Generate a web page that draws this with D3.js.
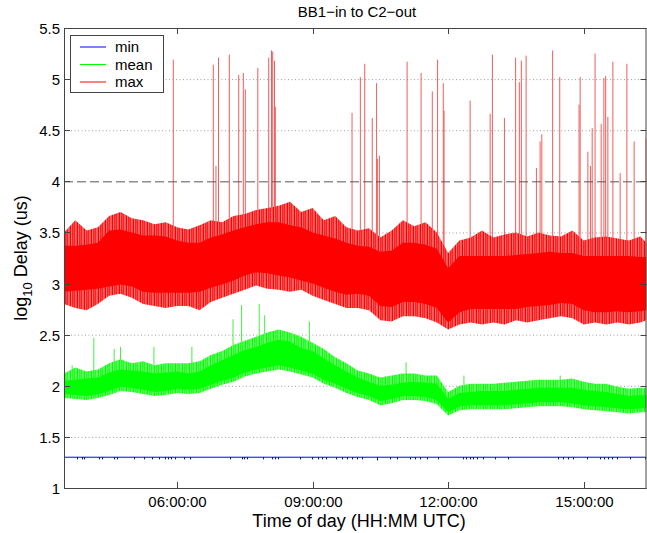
<!DOCTYPE html>
<html>
<head>
<meta charset="utf-8">
<script src="https://cdn.jsdelivr.net/npm/d3@7"></script>
<style>
  body { margin: 0; background: #fff; }
  svg text { font-family: "Liberation Sans", Arial, Helvetica, sans-serif; fill: #000; }
</style>
</head>
<body>
<svg id="chart" width="647" height="533"></svg>
<script>
// time of day, hours UTC
const hours = [3.5, 3.75, 4, 4.25, 4.5, 4.75, 5, 5.25, 5.5, 5.75, 6, 6.25, 6.5, 6.75, 7, 7.25, 7.5, 7.75,
  8, 8.25, 8.5, 8.75, 9, 9.25, 9.5, 9.75, 10, 10.25, 10.5, 10.75, 11, 11.25, 11.5, 11.75, 12, 12.25,
  12.5, 12.75, 13, 13.25, 13.5, 13.75, 14, 14.25, 14.5, 14.75, 15, 15.25, 15.5, 15.75, 16, 16.25, 16.39];

// max series: dense band (core) and its ragged edge (fringe), log10 us
const maxCoreHi = [3.37, 3.37, 3.38, 3.40, 3.52, 3.53, 3.50, 3.47, 3.47, 3.46, 3.42, 3.40, 3.40, 3.45, 3.48, 3.52, 3.55, 3.58,
  3.60, 3.60, 3.57, 3.55, 3.50, 3.47, 3.44, 3.40, 3.37, 3.36, 3.31, 3.32, 3.40, 3.40, 3.38, 3.34, 3.15, 3.27,
  3.27, 3.27, 3.27, 3.27, 3.28, 3.29, 3.30, 3.31, 3.30, 3.30, 3.27, 3.27, 3.27, 3.27, 3.27, 3.26, 3.26];
const maxCoreLo = [2.92, 2.93, 2.94, 2.95, 2.97, 2.99, 2.97, 2.92, 2.91, 2.91, 2.91, 2.91, 2.92, 2.96, 2.99, 3.03, 3.08, 3.11,
  3.10, 3.08, 3.06, 3.03, 3.00, 2.96, 2.92, 2.89, 2.90, 2.88, 2.78, 2.77, 2.82, 2.82, 2.80, 2.76, 2.62, 2.72,
  2.75, 2.75, 2.75, 2.75, 2.75, 2.77, 2.78, 2.79, 2.81, 2.80, 2.74, 2.72, 2.72, 2.73, 2.72, 2.73, 2.74];
const maxFringeHi = [3.50, 3.62, 3.52, 3.55, 3.66, 3.70, 3.64, 3.62, 3.58, 3.60, 3.55, 3.53, 3.57, 3.62, 3.60, 3.66, 3.68, 3.72,
  3.74, 3.76, 3.80, 3.70, 3.74, 3.62, 3.66, 3.55, 3.52, 3.54, 3.45, 3.52, 3.62, 3.56, 3.60, 3.50, 3.30, 3.42,
  3.45, 3.52, 3.45, 3.48, 3.50, 3.46, 3.50, 3.47, 3.46, 3.52, 3.42, 3.45, 3.46, 3.44, 3.42, 3.46, 3.40];
const maxFringeLo = [2.80, 2.76, 2.74, 2.80, 2.88, 2.90, 2.86, 2.80, 2.78, 2.76, 2.78, 2.78, 2.74, 2.82, 2.86, 2.90, 2.94, 2.98,
  2.95, 2.94, 2.92, 2.94, 2.88, 2.84, 2.80, 2.76, 2.76, 2.74, 2.64, 2.63, 2.68, 2.68, 2.66, 2.62, 2.55, 2.60,
  2.62, 2.60, 2.62, 2.60, 2.64, 2.62, 2.64, 2.66, 2.68, 2.66, 2.60, 2.62, 2.60, 2.62, 2.60, 2.62, 2.64];

// mean series
const meanCoreHi = [2.05, 2.06, 2.07, 2.08, 2.13, 2.16, 2.15, 2.14, 2.12, 2.13, 2.14, 2.12, 2.14, 2.20, 2.25, 2.30, 2.35, 2.38,
  2.42, 2.45, 2.43, 2.37, 2.34, 2.27, 2.20, 2.14, 2.08, 2.04, 2.00, 2.01, 2.03, 2.04, 2.03, 2.02, 1.87, 1.93,
  1.94, 1.95, 1.95, 1.95, 1.96, 1.97, 1.98, 1.98, 1.98, 1.98, 1.96, 1.95, 1.94, 1.92, 1.90, 1.91, 1.91];
const meanCoreLo = [1.92, 1.91, 1.90, 1.92, 1.95, 1.99, 1.98, 1.96, 1.94, 1.95, 1.97, 1.96, 1.97, 2.01, 2.05, 2.08, 2.13, 2.16,
  2.18, 2.20, 2.18, 2.15, 2.12, 2.06, 2.02, 1.97, 1.93, 1.90, 1.85, 1.87, 1.90, 1.90, 1.89, 1.86, 1.74, 1.80,
  1.81, 1.81, 1.81, 1.81, 1.82, 1.83, 1.84, 1.84, 1.84, 1.83, 1.81, 1.80, 1.79, 1.78, 1.77, 1.78, 1.78];
const meanFringeHi = [2.12, 2.18, 2.14, 2.16, 2.22, 2.26, 2.22, 2.24, 2.20, 2.22, 2.22, 2.22, 2.24, 2.30, 2.34, 2.40, 2.44, 2.48,
  2.52, 2.55, 2.52, 2.48, 2.42, 2.36, 2.28, 2.22, 2.15, 2.12, 2.08, 2.10, 2.12, 2.12, 2.10, 2.10, 1.94, 2.00,
  2.02, 2.02, 2.02, 2.03, 2.04, 2.05, 2.06, 2.06, 2.06, 2.07, 2.04, 2.02, 2.02, 1.99, 1.97, 1.98, 1.98];
const meanFringeLo = [1.88, 1.87, 1.86, 1.88, 1.91, 1.95, 1.94, 1.92, 1.90, 1.91, 1.93, 1.92, 1.93, 1.97, 2.01, 2.04, 2.09, 2.12,
  2.14, 2.16, 2.14, 2.11, 2.08, 2.02, 1.98, 1.93, 1.89, 1.86, 1.81, 1.83, 1.86, 1.86, 1.85, 1.82, 1.71, 1.76,
  1.77, 1.77, 1.77, 1.77, 1.78, 1.79, 1.80, 1.80, 1.80, 1.79, 1.77, 1.76, 1.75, 1.74, 1.73, 1.74, 1.74];

// isolated peaks of the max series
const maxSpikeHours = [5.918, 6.804, 6.863, 6.919, 7.158, 7.366, 7.468, 7.512, 7.789, 8.030, 8.092, 8.119, 8.158, 8.176,
  9.874, 10.058, 10.155, 10.321, 10.417, 10.434, 10.479, 11.092, 11.402, 11.650, 11.767, 11.893, 11.911,
  12.487, 12.930, 12.980, 13.246, 13.494, 13.576, 13.620, 13.726, 13.954, 14.036, 14.074, 14.313, 14.470,
  14.897, 14.922, 15.093, 15.150, 15.188, 15.252, 15.387, 15.447, 15.486, 15.535, 15.646, 15.807, 15.956,
  16.117, 16.383];
const maxSpikeValues = [5.19, 5.14, 4.15, 5.21, 5.24, 5.04, 5.06, 4.90, 5.11, 5.21, 5.28, 5.27, 5.18, 4.73,
  4.67, 5.02, 5.15, 4.62, 4.96, 4.22, 4.25, 5.17, 5.06, 4.88, 5.19, 4.96, 4.69,
  4.79, 4.66, 5.24, 4.62, 5.21, 4.97, 5.18, 5.23, 4.13, 4.39, 4.46, 5.28, 5.02,
  4.75, 5.02, 4.29, 4.15, 4.52, 5.25, 4.56, 5.01, 5.03, 4.63, 5.17, 4.08, 5.15,
  4.39, 4.42];

// isolated peaks of the mean series
const meanSpikeHours = [3.68, 4.16, 4.61, 4.75, 5.49, 6.33, 7.24, 7.43, 7.82, 7.94, 8.93, 11.07, 12.35, 14.48];
const meanSpikeValues = [2.20, 2.47, 2.36, 2.38, 2.38, 2.38, 2.65, 2.79, 2.80, 2.69, 2.63, 2.23, 2.10, 2.10];

// min series: flat at log10(20) with short dips
const minBase = 1.301;
const minDipHours = [3.78, 3.89, 3.94, 4.27, 4.33, 4.61, 4.68, 5.05, 5.27, 5.44, 5.61, 5.73, 5.80, 5.87, 5.96,
  6.16, 6.29, 7.17, 7.44, 7.49, 7.54, 7.91, 8.10, 8.17, 8.24, 8.72, 8.98, 9.13, 9.21, 9.30, 9.52, 9.65,
  9.76, 9.87, 9.98, 10.09, 10.42, 10.72, 10.86, 11.16, 11.27, 11.38, 11.53, 11.78, 12.33, 12.40, 12.49,
  12.55, 12.63, 12.78, 13.04, 13.33, 14.43, 14.55, 14.66, 14.77, 15.07, 15.36, 15.45, 15.54, 15.63,
  15.73, 16.02, 16.35];
const minDipValues = [1.28, 1.28, 1.28, 1.28, 1.28, 1.28, 1.28, 1.28, 1.28, 1.28, 1.28, 1.28, 1.28, 1.28, 1.28,
  1.28, 1.28, 1.28, 1.28, 1.28, 1.28, 1.28, 1.28, 1.28, 1.28, 1.28, 1.28, 1.28, 1.28, 1.28, 1.28, 1.28,
  1.28, 1.28, 1.28, 1.28, 1.27, 1.28, 1.28, 1.28, 1.28, 1.28, 1.28, 1.28, 1.28, 1.28, 1.28,
  1.28, 1.28, 1.28, 1.28, 1.28, 1.28, 1.28, 1.28, 1.28, 1.28, 1.28, 1.28, 1.28, 1.28,
  1.28, 1.28, 1.28];

const threshold = 4;
const yTicks = [1, 1.5, 2, 2.5, 3, 3.5, 4, 4.5, 5, 5.5];
const legendLabels = ['min', 'mean', 'max'];
const seriesColors = ['#0000ff', '#00ff00', '#ff0000'];

const day0 = Date.UTC(2000, 0, 1);
const toDate = h => new Date(day0 + h * 3600e3);

const svg = d3.select('#chart');
const plot = {left: 64, top: 28, right: 646.5, bottom: 488};

const x = d3.scaleUtc()
    .domain([toDate(3.5), toDate(16.39)])
    .range([plot.left, plot.right]);
const y = d3.scaleLinear()
    .domain([1, 5.5])
    .range([plot.bottom, plot.top]);

svg.append('rect').attr('width', 647).attr('height', 533).attr('fill', '#fff');

const defs = svg.append('defs');
defs.append('clipPath').attr('id', 'clip')
  .append('rect')
    .attr('x', plot.left).attr('y', plot.top)
    .attr('width', plot.right - plot.left).attr('height', plot.bottom - plot.top);
// uneven vertical strokes so the ragged band edge reads like a dense trace
const hatch = (id, dark, light) => {
  const p = defs.append('pattern').attr('id', id)
      .attr('patternUnits', 'userSpaceOnUse').attr('width', 7).attr('height', 6);
  p.append('rect').attr('width', 7).attr('height', 6).attr('fill', light);
  [[0, 1.3], [2, 0.8], [3.4, 1.4], [5.6, 0.9]].forEach(([sx, sw]) => {
    p.append('rect').attr('x', sx).attr('width', sw).attr('height', 6).attr('fill', dark);
  });
};
hatch('redHatch', '#ff0000', '#ffa4a4');
hatch('greenHatch', '#00ff00', '#a4ffa4');

// grid
svg.append('g')
  .selectAll('line')
  .data(yTicks.filter(v => v > 1 && v < 5.5 && v !== threshold))
  .join('line')
    .attr('x1', plot.left).attr('x2', plot.right)
    .attr('y1', d => y(d) + 0.5).attr('y2', d => y(d) + 0.5)
    .attr('stroke', '#9a9a9a')
    .attr('stroke-width', 1)
    .attr('stroke-dasharray', '1,2.5');

const data = g => g.attr('clip-path', 'url(#clip)');
const area = (lo, hi) => d3.area()
    .x((d, i) => x(toDate(hours[i])))
    .y0((d, i) => y(lo[i]))
    .y1((d, i) => y(hi[i]));
// band value at a spike's time, only used as the foot of the spike
const footAt = (arr, h) => {
  const i = Math.min(d3.bisectLeft(hours, h), hours.length - 1);
  return arr[i];
};

// min
const gMin = svg.append('g').call(data);
gMin.append('line')
    .attr('x1', plot.left).attr('x2', plot.right)
    .attr('y1', y(minBase)).attr('y2', y(minBase))
    .attr('stroke', seriesColors[0]).attr('stroke-width', 1);
gMin.selectAll('.dip')
  .data(minDipHours)
  .join('line')
    .attr('class', 'dip')
    .attr('x1', d => Math.round(x(toDate(d))) + 0.5).attr('x2', d => Math.round(x(toDate(d))) + 0.5)
    .attr('y1', y(minBase)).attr('y2', (d, i) => y(minDipValues[i]))
    .attr('stroke', seriesColors[0]).attr('stroke-width', 1);

// mean
const gMean = svg.append('g').call(data);
gMean.selectAll('.spike')
  .data(meanSpikeHours)
  .join('line')
    .attr('class', 'spike')
    .attr('x1', d => x(toDate(d))).attr('x2', d => x(toDate(d)))
    .attr('y1', d => y(footAt(meanCoreHi, d))).attr('y2', (d, i) => y(meanSpikeValues[i]))
    .attr('stroke', '#44ee44').attr('stroke-width', 1);
gMean.append('path')
    .datum(hours)
    .attr('d', area(meanFringeLo, meanFringeHi))
    .attr('fill', 'url(#greenHatch)');
gMean.append('path')
    .datum(hours)
    .attr('d', area(meanCoreLo, meanCoreHi))
    .attr('fill', seriesColors[1]);

// max
const gMax = svg.append('g').call(data);
gMax.selectAll('.spike')
  .data(maxSpikeHours)
  .join('line')
    .attr('class', 'spike')
    .attr('x1', d => x(toDate(d))).attr('x2', d => x(toDate(d)))
    .attr('y1', d => y(footAt(maxCoreHi, d))).attr('y2', (d, i) => y(maxSpikeValues[i]))
    .attr('stroke', '#f25c5c').attr('stroke-width', 1);
gMax.append('path')
    .datum(hours)
    .attr('d', area(maxFringeLo, maxFringeHi))
    .attr('fill', 'url(#redHatch)');
gMax.append('path')
    .datum(hours)
    .attr('d', area(maxCoreLo, maxCoreHi))
    .attr('fill', seriesColors[2]);

// threshold line
svg.append('line')
    .attr('x1', plot.left).attr('x2', plot.right)
    .attr('y1', y(threshold) + 0.5).attr('y2', y(threshold) + 0.5)
    .attr('stroke', '#555')
    .attr('stroke-width', 1)
    .attr('stroke-dasharray', '9,4');

// axes box with inward ticks on all sides
const axisColor = '#444';
const xTicks = x.ticks(d3.utcHour.every(3));
const fmt = d3.utcFormat('%H:%M:%S');

const axisG = svg.append('g').attr('font-size', 15);
axisG.append('rect')
    .attr('x', plot.left + 0.5).attr('y', plot.top + 0.5)
    .attr('width', plot.right - plot.left - 1).attr('height', plot.bottom - plot.top)
    .attr('fill', 'none').attr('stroke', axisColor).attr('stroke-width', 1);

xTicks.forEach(t => {
  const xp = Math.round(x(t)) + 0.5;
  axisG.append('line').attr('x1', xp).attr('x2', xp)
      .attr('y1', plot.bottom).attr('y2', plot.bottom - 6).attr('stroke', axisColor);
  axisG.append('line').attr('x1', xp).attr('x2', xp)
      .attr('y1', plot.top).attr('y2', plot.top + 6).attr('stroke', axisColor);
  axisG.append('text')
      .attr('x', xp).attr('y', 507)
      .attr('text-anchor', 'middle')
      .text(fmt(t));
});

yTicks.forEach(v => {
  const yp = Math.round(y(v)) + 0.5;
  axisG.append('line').attr('x1', plot.left).attr('x2', plot.left + 6)
      .attr('y1', yp).attr('y2', yp).attr('stroke', axisColor);
  axisG.append('line').attr('x1', plot.right).attr('x2', plot.right - 6)
      .attr('y1', yp).attr('y2', yp).attr('stroke', axisColor);
  axisG.append('text')
      .attr('x', 60).attr('y', yp + 5)
      .attr('text-anchor', 'end')
      .text(d3.format('')(v));
});

// labels
svg.append('text')
    .attr('x', 357).attr('y', 17)
    .attr('text-anchor', 'middle')
    .attr('font-size', 15)
    .text('BB1\u2212in to C2\u2212out');

svg.append('text')
    .attr('x', 359).attr('y', 527)
    .attr('text-anchor', 'middle')
    .attr('font-size', 18)
    .text('Time of day (HH:MM UTC)');

const yl = svg.append('text')
    .attr('transform', 'translate(27,258) rotate(-90)')
    .attr('text-anchor', 'middle')
    .attr('font-size', 18);
yl.append('tspan').text('log');
yl.append('tspan').attr('font-size', 13).attr('dy', 5).text('10');
yl.append('tspan').attr('dy', -5).text(' Delay (us)');

// legend
const lg = svg.append('g');
lg.append('rect')
    .attr('x', 70.5).attr('y', 35.5).attr('width', 93).attr('height', 57)
    .attr('fill', '#fff').attr('stroke', axisColor);
legendLabels.forEach((name, i) => {
  const ly = 47 + i * 17.5;
  lg.append('line')
      .attr('x1', 80).attr('x2', 106)
      .attr('y1', ly).attr('y2', ly)
      .attr('stroke', seriesColors[i]).attr('stroke-width', 1);
  lg.append('text')
      .attr('x', 115).attr('y', ly + 5)
      .attr('font-size', 15)
      .text(name);
});
</script>
</body>
</html>
